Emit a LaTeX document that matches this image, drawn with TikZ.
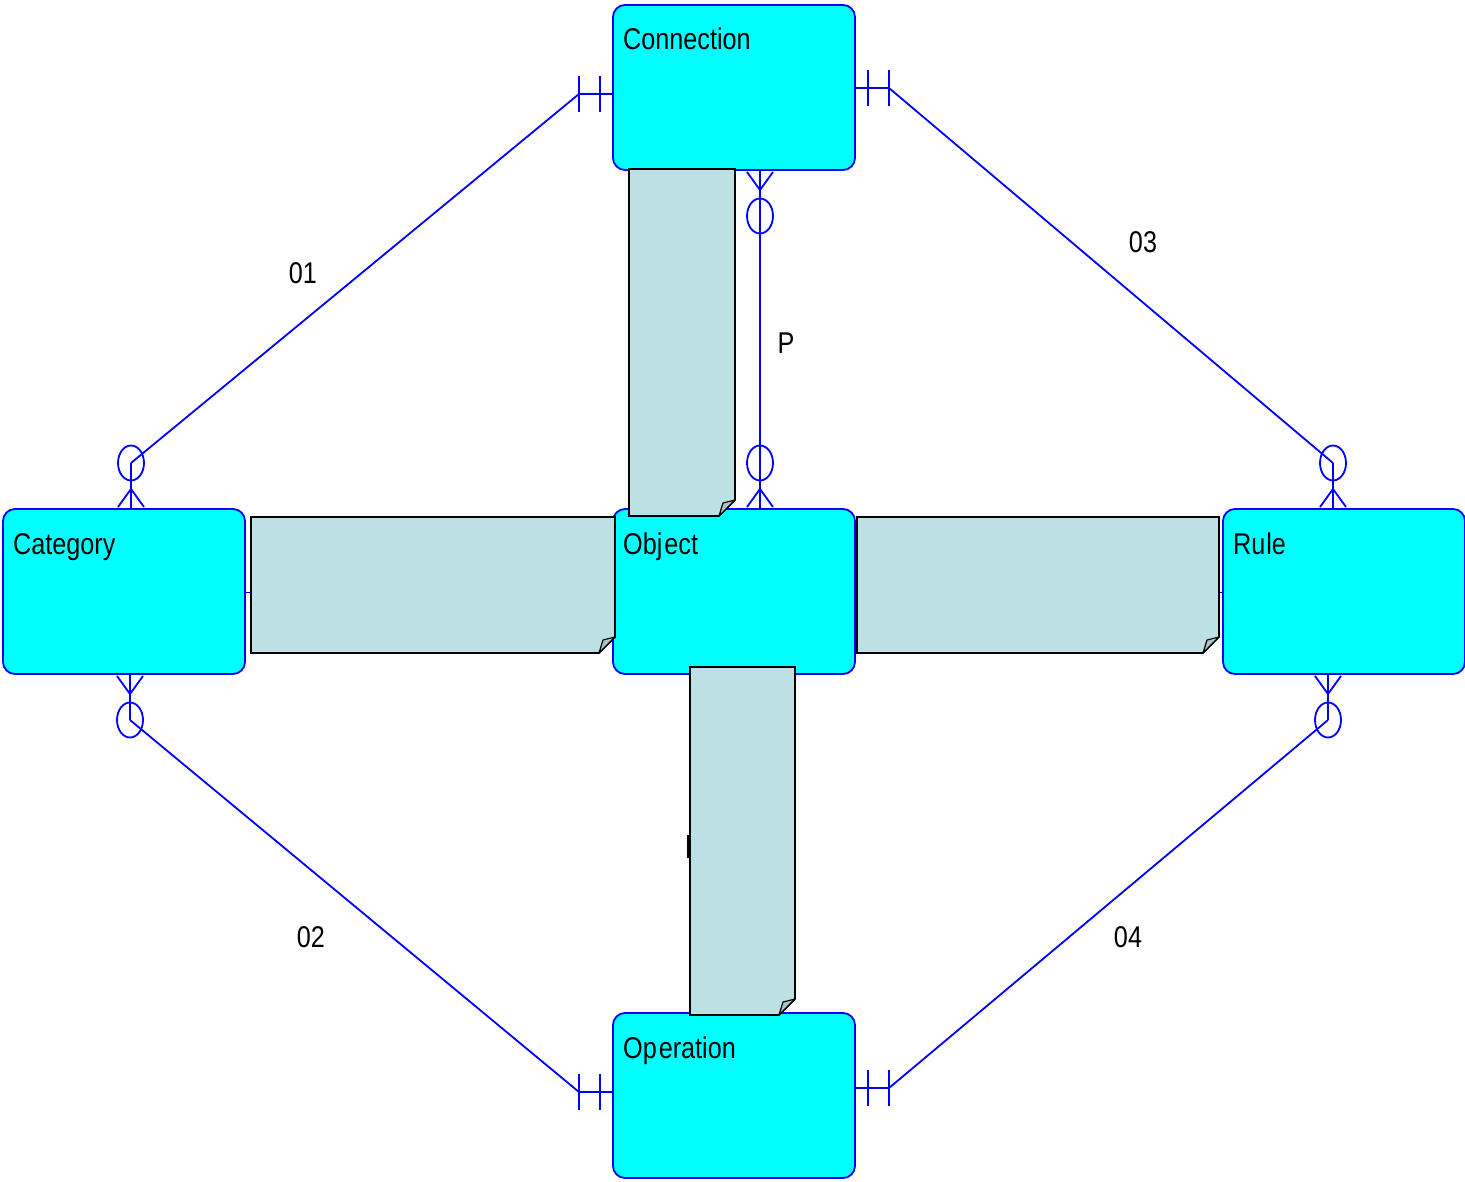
\documentclass[tikz,border=0pt]{standalone}
\usepackage{fontspec}
\setmainfont{Liberation Sans}[FakeStretch=0.84]
\usetikzlibrary{calc}
\definecolor{entfill}{RGB}{0,255,255}
\definecolor{entline}{RGB}{0,0,255}
\definecolor{notefill}{RGB}{188,224,227}
\definecolor{foldfill}{RGB}{170,196,199}
\tikzset{
  entity/.style={draw=entline, fill=entfill, rounded corners=12pt, line width=1.8pt,
    minimum width=242pt, minimum height=165pt, inner sep=0pt, outer sep=0pt, anchor=north west},
  ename/.style={anchor=base west, inner sep=0pt, font=\fontsize{30}{36}\selectfont},
  rlabel/.style={inner sep=0pt, font=\fontsize{30}{36}\selectfont},
  rel/.style={draw=entline, line width=1.8pt},
  notebox/.style={draw=black, fill=notefill, line width=1.6pt, line join=miter},
  foldbox/.style={draw=black, fill=foldfill, line width=1.2pt, line join=round},
}
% zero-or-many end: #1 attach point, #2 yscale (1 = entity below, -1 = entity above), #3 name of circle centre
\newcommand\zmend[3]{%
  \begin{scope}[shift={(#1)}, yscale=#2]
    \draw[rel] (0,0) -- (0,-46);
    \draw[rel] (-13,-2) -- (0,-20) -- (13,-2);
    \draw[rel] (0,-46) ellipse [x radius=13, y radius=17.5];
    \coordinate (#3) at (0,-46);
  \end{scope}}
% one-and-only-one end: #1 attach point, #2 xscale (1 = entity right, -1 = entity left), #3 name of free end
\newcommand\ooend[3]{%
  \begin{scope}[shift={(#1)}, xscale=#2]
    \draw[rel] (0,0) -- (-34,0);
    \draw[rel] (-13,-18) -- (-13,18);
    \draw[rel] (-34,-18) -- (-34,18);
    \coordinate (#3) at (-34,0);
  \end{scope}}
% note: x1,y1,x2,y2
\newcommand\notepoly[4]{%
  \draw[notebox] (#1,#2) -- (#3,#2) -- (#3,#4-16) -- (#3-16,#4) -- (#1,#4) -- cycle;
  \draw[foldbox] (#3-16,#4) -- (#3-12,#4-13) -- (#3,#4-16) -- cycle;}
\begin{document}
\begin{tikzpicture}[x=1pt, y=-1pt]
\useasboundingbox (0,0) rectangle (1465,1182);

% entities
\node[entity] (conn) at (613,5) {};
\node[entity] (cat)  at (3,509) {};
\node[entity] (obj)  at (613,509) {};
\node[entity] (rule) at (1223,509) {};
\node[entity] (oper) at (613,1013) {};

\node[ename] (connT) at ($(conn.north west)+(10,45)$) {Connection};
\node[ename] (catT)  at ($(cat.north west)+(10,45)$) {Category};
\node[ename] (objT)  at ($(obj.north west)+(10,45)$) {Obj\kern2pt ect};
\node[ename] (ruleT) at ($(rule.north west)+(10,45)$) {Ru\kern1pt le};
\node[ename] (operT) at ($(oper.north west)+(10,45)$) {Op\kern2pt eration};

% relationship 01: Connection -- Category
\coordinate (r1a) at ($(conn.north west)+(0,89)$);
\coordinate (r1b) at ($(cat.north west)+(128,0)$);
\ooend{r1a}{1}{r1k}
\zmend{r1b}{1}{r1c}
\draw[rel] (r1k) -- (r1c);

% relationship 02: Category -- Operation
\coordinate (r2a) at ($(cat.south west)+(127,0)$);
\coordinate (r2b) at ($(oper.north west)+(0,79)$);
\zmend{r2a}{-1}{r2c}
\ooend{r2b}{1}{r2k}
\draw[rel] (r2c) -- (r2k);

% relationship 03: Connection -- Rule
\coordinate (r3a) at ($(conn.north east)+(0,83)$);
\coordinate (r3b) at ($(rule.north west)+(110,0)$);
\ooend{r3a}{-1}{r3k}
\zmend{r3b}{1}{r3c}
\draw[rel] (r3k) -- (r3c);

% relationship 04: Rule -- Operation
\coordinate (r4a) at ($(rule.south west)+(105,0)$);
\coordinate (r4b) at ($(oper.north east)+(0,75)$);
\zmend{r4a}{-1}{r4c}
\ooend{r4b}{-1}{r4k}
\draw[rel] (r4c) -- (r4k);

% relationship P: Connection -- Object
\coordinate (rpa) at ($(conn.south west)+(147,0)$);
\coordinate (rpb) at ($(obj.north west)+(147,0)$);
\zmend{rpa}{-1}{rpc}
\zmend{rpb}{1}{rpd}
\draw[rel] (rpc) -- (rpd);

% relationship labels
\node[rlabel] (l1) at (303,273) {01};
\node[rlabel] (l2) at (311,937) {02};
\node[rlabel] (l3) at (1143,242) {03};
\node[rlabel] (l4) at (1128,937) {04};
\node[rlabel] (lp) at (786,343) {P};

% small anchor marks
\draw[rel, line width=1.2pt] ($(cat.east)+(0,1)$) -- ++(5,0);
\draw[rel, line width=1.2pt] ($(rule.west)+(0,1)$) -- ++(-4,0);
\draw[black, line width=2pt] (688,835) -- (688,858);

% notes
\notepoly{629}{169}{735}{516}
\notepoly{251}{517}{615}{653}
\notepoly{857}{517}{1219}{653}
\notepoly{690}{667}{795}{1015}
\end{tikzpicture}
\end{document}
